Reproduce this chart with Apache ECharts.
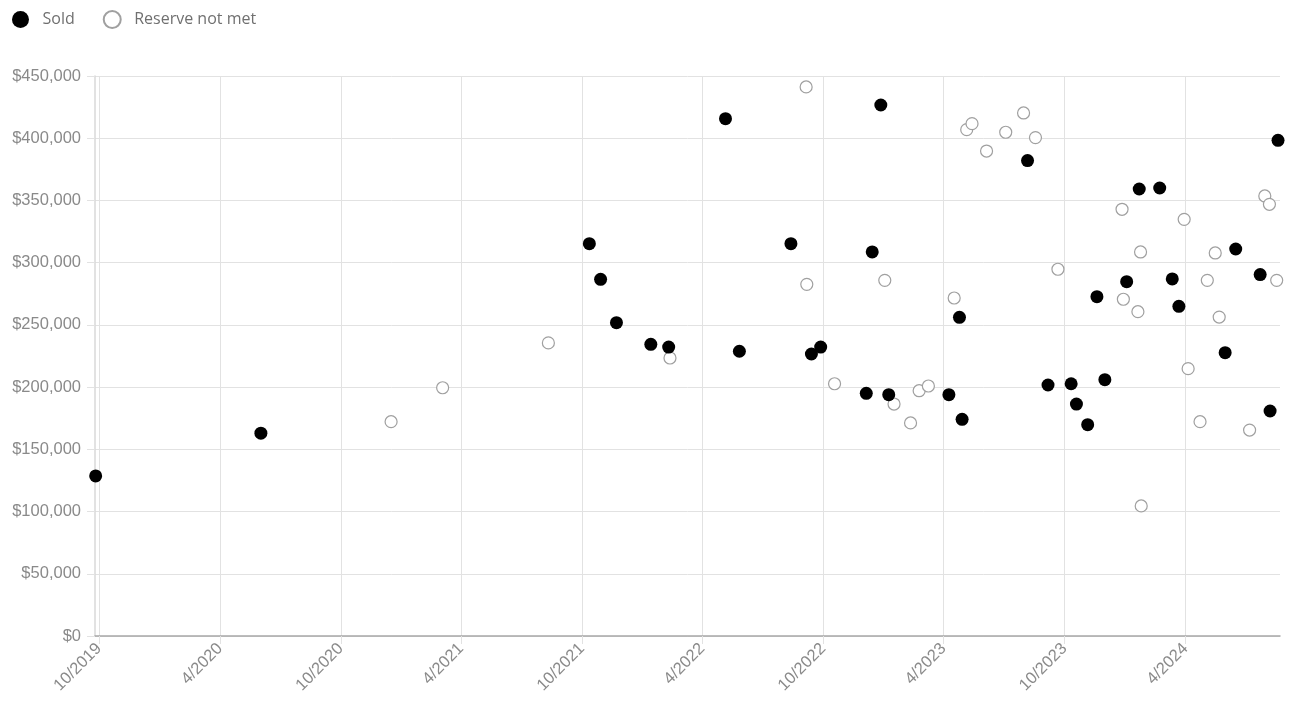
<!DOCTYPE html>
<html>
<head>
<meta charset="utf-8">
<script src="https://cdn.jsdelivr.net/npm/echarts@6/dist/echarts.min.js"></script>
<style>
html,body{margin:0;padding:0;background:#fff;}
#chart{width:1292px;height:711px;}
</style>
</head>
<body>
<div id="chart"></div>
<script>
// Sold auctions: [date, price]
const soldDates = ['2019-09-26','2020-06-02','2021-10-12','2021-10-29','2021-11-22','2022-01-13','2022-02-09','2022-05-06','2022-05-27','2022-08-13','2022-09-13','2022-09-27','2022-12-05','2022-12-14','2022-12-27','2023-01-08','2023-04-09','2023-04-25','2023-04-29','2023-08-06','2023-09-06','2023-10-11','2023-10-19','2023-11-05','2023-11-19','2023-12-01','2024-01-03','2024-01-22','2024-02-22','2024-03-12','2024-03-22','2024-05-31','2024-06-16','2024-07-23','2024-08-07','2024-08-19'];
const soldPrices = [128600,163000,315300,286600,251800,234400,232200,415700,228800,315300,226600,232200,195000,308600,426700,193900,193900,256100,174100,382000,201700,202700,186400,169800,272700,206000,284700,359200,360000,286900,264900,227700,311000,290400,180800,398300];

// Reserve not met: [date, high bid]
const rnmDates = ['2020-12-16','2021-03-04','2021-08-11','2022-02-11','2022-09-05','2022-09-06','2022-10-18','2023-01-02','2023-01-16','2023-02-10','2023-02-23','2023-03-09','2023-04-17','2023-05-06','2023-05-14','2023-06-05','2023-07-04','2023-07-31','2023-08-18','2023-09-21','2023-12-27','2023-12-29','2024-01-20','2024-01-24','2024-01-25','2024-03-30','2024-04-05','2024-04-23','2024-05-04','2024-05-16','2024-05-22','2024-07-07','2024-07-30','2024-08-06','2024-08-17'];
const rnmPrices = [172200,199500,235500,223400,441200,282600,202700,285800,186400,171200,197100,200900,271600,406900,411700,389700,404800,420300,400500,294700,342900,270600,260600,308600,104500,334800,214800,172200,285800,307800,256300,165500,353600,346900,285800];

// x-axis tick dates and labels
const xTickDates = ['2019-10-01','2020-04-01','2020-10-01','2021-04-01','2021-10-01','2022-04-01','2022-10-01','2023-04-01','2023-10-01','2024-04-01'];
const xTickLabels = ['10/2019','4/2020','10/2020','4/2021','10/2021','4/2022','10/2022','4/2023','10/2023','4/2024'];
const xMin = '2019-09-25';
const xMax = '2024-08-22';

// y-axis
const yMin = 0, yMax = 450000, yStep = 50000;

const seriesNames = ['Sold', 'Reserve not met'];

function ts(s){ const p = s.split('-').map(Number); return Date.UTC(p[0], p[1]-1, p[2]); }
const tickTs = xTickDates.map(ts);

const chart = echarts.init(document.getElementById('chart'), null, {renderer:'canvas'});
const labelColor = '#8a8a8a';
chart.setOption({
  animation: false,
  textStyle: {fontFamily: 'Liberation Sans, Arial, sans-serif'},
  legend: {
    left: 7, top: 5,
    itemWidth: 34, itemHeight: 17, itemGap: 28,
    icon: 'circle',
    textStyle: {fontFamily: 'Open Sans', fontSize: 16, color: '#707070'},
    data: seriesNames
  },
  grid: {left: 95, right: 12, top: 76, bottom: 75, containLabel: false},
  xAxis: {
    type: 'value',
    min: ts(xMin), max: ts(xMax),
    axisLine: {show: true, lineStyle: {color: '#a8a8a8', width: 1.5}},
    axisTick: {show: true, length: 8, lineStyle: {color: '#e2e2e2'}, customValues: tickTs},
    axisLabel: {
      customValues: tickTs,
      rotate: 45, fontSize: 16.5, color: labelColor, margin: 10,
      formatter: function(v){ const i = tickTs.indexOf(v); return i >= 0 ? xTickLabels[i] : ''; }
    },
    splitLine: {show: true, lineStyle: {color: '#e2e2e2', width: 1}}
  },
  yAxis: {
    type: 'value',
    min: yMin, max: yMax, interval: yStep,
    axisLine: {show: true, lineStyle: {color: '#d8d8d8', width: 1.5}},
    axisTick: {show: true, length: 8, lineStyle: {color: '#e2e2e2'}},
    axisLabel: {
      fontSize: 16.5, color: labelColor, margin: 14,
      formatter: function(v){ return '$' + v.toLocaleString('en-US'); }
    },
    splitLine: {show: true, lineStyle: {color: '#e2e2e2', width: 1}}
  },
  series: [
    {
      name: seriesNames[0], type: 'scatter', clip: false,
      symbol: 'circle', symbolSize: 13,
      itemStyle: {color: '#000', borderColor: '#000', borderWidth: 0, opacity: 1},
      data: soldDates.map((d,i) => [ts(d), soldPrices[i]]),
      z: 3
    },
    {
      name: seriesNames[1], type: 'scatter', clip: false,
      symbol: 'circle', symbolSize: 12,
      itemStyle: {color: '#fff', borderColor: '#a0a0a0', borderWidth: 1.2, opacity: 1},
      data: rnmDates.map((d,i) => [ts(d), rnmPrices[i]]),
      z: 2
    }
  ]
});
</script>
</body>
</html>
